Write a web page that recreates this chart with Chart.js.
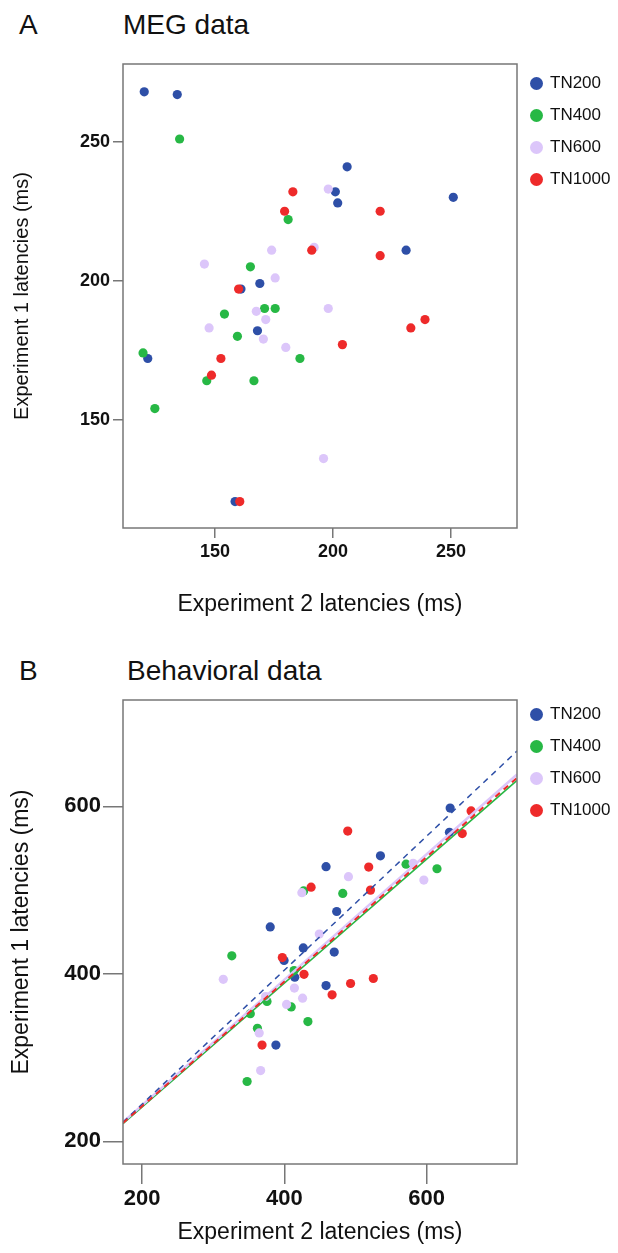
<!DOCTYPE html>
<html>
<head>
<meta charset="utf-8">
<script src="https://cdn.jsdelivr.net/npm/chart.js@4.4.1/dist/chart.umd.min.js"></script>
<style>
  html, body { margin: 0; padding: 0; background: #fff; }
  body { width: 618px; height: 1253px; position: relative; overflow: hidden; font-family: "Liberation Sans", Arial, sans-serif; color: #111; }
  canvas { position: absolute; left: 0; }
  .letter, .title { position: absolute; font-size: 28px; line-height: 1; white-space: nowrap; }
  .legend { position: absolute; left: 530px; font-size: 17px; }
  .legend .row { height: 32px; display: flex; align-items: center; }
  .legend .dot { width: 13px; height: 13px; border-radius: 50%; margin-right: 7px; }
</style>
</head>
<body>
<div class="letter" style="left:19px;top:11px">A</div>
<div class="title" style="left:123px;top:11px">MEG data</div>
<canvas id="megChart" width="618" height="640" style="top:0"></canvas>
<div class="legend" id="megLegend" style="top:67px"></div>

<div class="letter" style="left:19px;top:657px">B</div>
<div class="title" style="left:127px;top:657px">Behavioral data</div>
<canvas id="behChart" width="618" height="613" style="top:640px"></canvas>
<div class="legend" id="behLegend" style="top:698px"></div>

<script>
// series
const seriesNames = ['TN200', 'TN400', 'TN600', 'TN1000'];
const seriesColors = ['#2e4fa7', '#27b845', '#dcc6fa', '#ee2a2a'];

// A: MEG latencies, x = experiment 2, y = experiment 1
const megTN200X = [120, 134, 161, 169, 206, 201, 202, 231, 251, 168, 121.5, 158.5];
const megTN200Y = [268, 267, 197, 199, 241, 232, 228, 211, 230, 182, 172, 120.5];
const megTN400X = [135, 165, 181, 154, 171, 175.5, 159.5, 119.5, 146.5, 166.5, 124.5, 186];
const megTN400Y = [251, 205, 222, 188, 190, 190, 180, 174, 164, 164, 154, 172];
const megTN600X = [174, 145.5, 175.5, 198, 192, 167.5, 171.5, 147.5, 170.5, 198, 180, 196];
const megTN600Y = [211, 206, 201, 233, 212, 189, 186, 183, 179, 190, 176, 136];
const megTN1000X = [160, 183, 179.5, 220, 191, 220, 152.5, 148.5, 160.5, 204, 233, 239];
const megTN1000Y = [197, 232, 225, 225, 211, 209, 172, 166, 120.5, 177, 183, 186];
const megRange = [111, 278];
const megTicks = [150, 200, 250];

// B: behavioral latencies
const behTN200X = [633, 632, 535, 458.5, 473.5, 426.5, 470, 458.5, 380, 399.5, 414.5, 388];
const behTN200Y = [598, 569, 541, 528, 474.5, 431, 426, 386, 456, 416, 396, 315];
const behTN400X = [571, 614.5, 427, 482, 413.5, 433, 326, 375.5, 409.5, 352, 362, 347.5];
const behTN400Y = [531, 525.5, 499, 496, 404, 343, 421.5, 367, 360.5, 352.5, 335, 271.5];
const behTN600X = [581, 490, 596, 424.5, 449, 425.5, 314, 414, 373.5, 403, 364.5, 366.5];
const behTN600Y = [532, 516, 512, 497, 447.5, 371, 393.5, 383, 373, 363.5, 329.5, 284.5];
const behTN1000X = [662.5, 650, 489, 518.5, 437.5, 521, 427.5, 493, 525, 467, 397, 368.5];
const behTN1000Y = [594.5, 567.5, 570.5, 527.5, 503.5, 500, 399.5, 388.5, 394.5, 375, 419.5, 315];
const behRange = [173, 727];
const behTicks = [200, 400, 600];

// fitted lines for B, read at the two ends of the x range
const behFitX = [173, 727];
const behFitStartY = [223, 221, 223, 222];
const behFitEndY = [666, 631, 638, 634];
const behFitDash = [[6, 5], [], [], [6, 5]];
const behFitWidth = [1.5, 1.5, 2.5, 2];

const megXs = [megTN200X, megTN400X, megTN600X, megTN1000X];
const megYs = [megTN200Y, megTN400Y, megTN600Y, megTN1000Y];
const behXs = [behTN200X, behTN400X, behTN600X, behTN1000X];
const behYs = [behTN200Y, behTN400Y, behTN600Y, behTN1000Y];

const pairUp = (xs, ys) => xs.map((x, i) => ({ x: x, y: ys[i] }));

// draw the closed frame round the plot area
const framePlugin = {
    id: 'frame',
    afterDatasetsDraw(chart) {
        const a = chart.chartArea;
        const ctx = chart.ctx;
        ctx.save();
        ctx.strokeStyle = '#777';
        ctx.lineWidth = 1.5;
        ctx.strokeRect(a.left, a.top, a.right - a.left, a.bottom - a.top);
        ctx.restore();
    }
};

function makeAxis(axis, range, ticks, o) {
    const scale = {
        type: 'linear',
        min: range[0],
        max: range[1],
        afterBuildTicks: s => { s.ticks = ticks.map(v => ({ value: v })); },
        afterFit: s => {
            if (axis === 'x') s.height = o.axisSize; else s.width = o.axisSize;
        },
        grid: { drawOnChartArea: false, drawTicks: true, tickLength: o.tickLength, color: '#777', lineWidth: 1.5 },
        border: { display: false },
        ticks: {
            padding: o.tickPad,
            color: '#111',
            font: { family: 'Liberation Sans', size: o.tickSize, weight: 'bold' },
            maxRotation: 0
        },
        title: {
            display: true,
            text: axis === 'x' ? 'Experiment 2 latencies (ms)' : 'Experiment 1 latencies (ms)',
            color: '#111',
            font: { family: 'Liberation Sans', size: o.titleSize },
            padding: axis === 'x' ? { top: 0, bottom: o.titlePad } : { top: o.titlePad, bottom: 0 }
        }
    };
    return scale;
}

function buildLegend(id) {
    const box = document.getElementById(id);
    seriesNames.forEach((name, i) => {
        const row = document.createElement('div');
        row.className = 'row';
        const dot = document.createElement('span');
        dot.className = 'dot';
        dot.style.background = seriesColors[i];
        const label = document.createElement('span');
        label.textContent = name;
        row.appendChild(dot);
        row.appendChild(label);
        box.appendChild(row);
    });
}

function pointSets(xs, ys) {
    return seriesNames.map((name, i) => ({
        label: name,
        data: pairUp(xs[i], ys[i]),
        backgroundColor: seriesColors[i],
        borderWidth: 0,
        pointRadius: 4.6,
        order: seriesNames.length - i
    }));
}

// A
new Chart(document.getElementById('megChart'), {
    type: 'scatter',
    data: { datasets: pointSets(megXs, megYs) },
    options: {
        responsive: false,
        animation: false,
        layout: { padding: { top: 64, right: 101, bottom: 0, left: 0 } },
        plugins: { legend: { display: false }, tooltip: { enabled: false } },
        scales: {
            x: makeAxis('x', megRange, megTicks, { axisSize: 112, tickLength: 10, tickPad: 3, tickSize: 18, titleSize: 23, titlePad: 22 }),
            y: makeAxis('y', megRange, megTicks, { axisSize: 123, tickLength: 10, tickPad: 3, tickSize: 18, titleSize: 20, titlePad: 10 })
        }
    },
    plugins: [framePlugin]
});

// B
const fitSets = seriesNames.map((name, i) => ({
    type: 'line',
    label: name + ' fit',
    data: pairUp(behFitX, [behFitStartY[i], behFitEndY[i]]),
    borderColor: seriesColors[i],
    borderWidth: behFitWidth[i],
    borderDash: behFitDash[i],
    pointRadius: 0,
    fill: false,
    order: i === 3 ? -4 : (i === 0 ? -3 : (i === 2 ? -2 : -1))
}));

new Chart(document.getElementById('behChart'), {
    type: 'scatter',
    data: { datasets: pointSets(behXs, behYs).concat(fitSets) },
    options: {
        responsive: false,
        animation: false,
        layout: { padding: { top: 60, right: 101, bottom: 0, left: 0 } },
        plugins: { legend: { display: false }, tooltip: { enabled: false } },
        scales: {
            x: makeAxis('x', behRange, behTicks, { axisSize: 89, tickLength: 20, tickPad: 2, tickSize: 22, titleSize: 23, titlePad: 7 }),
            y: makeAxis('y', behRange, behTicks, { axisSize: 123, tickLength: 20, tickPad: 2, tickSize: 22, titleSize: 23, titlePad: 8 })
        }
    },
    plugins: [framePlugin]
});

buildLegend('megLegend');
buildLegend('behLegend');
</script>
</body>
</html>
